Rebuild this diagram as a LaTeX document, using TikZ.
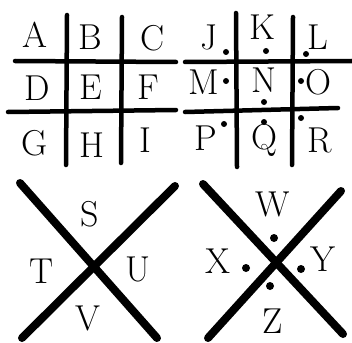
\documentclass[tikz,border=0pt]{standalone}
\begin{document}
\begin{tikzpicture}[x=1pt,y=-1pt,
  grid/.style={line width=4.5pt,line cap=round},
  cross/.style={line width=8pt,line cap=round},
  letter/.style={inner sep=0pt,font=\fontsize{36}{36}\selectfont},
  dotmark/.style={circle,fill,inner sep=0pt,minimum size=6pt}]
\useasboundingbox (0,0) rectangle (352,342);
% top-left grid
\draw[grid] (67,15) -- (66,165);
\draw[grid] (122,17) -- (121,163);
\draw[grid] (15,61) -- (176,62);
\draw[grid] (8,112) -- (176,110);
\node[letter] (A) at (35,35) {A};
\node[letter] (B) at (90,37) {B};
\node[letter] (C) at (153,38) {C};
\node[letter] (D) at (37,88) {D};
\node[letter] (E) at (91,87) {E};
\node[letter] (F) at (148,87) {F};
\node[letter] (G) at (35,143) {G};
\node[letter] (H) at (92,145) {H};
\node[letter] (I) at (145,140) {I};
% top-right grid
\draw[grid] (236,13) -- (237,167);
\draw[grid] (293,17) -- (292,165);
\draw[grid] (185,62) -- (352,61);
\draw[grid] (185,112) -- (338,108);
\node[letter] (J) at (209,37) {J};
\node[letter] (K) at (262,27) {K};
\node[letter] (L) at (318,37) {L};
\node[letter] (M) at (204,82) {M};
\node[letter] (N) at (264,80) {N};
\node[letter] (O) at (318,82) {O};
\node[letter] (P) at (206,138) {P};
\node[letter] (Q) at (264,140) {Q};
\node[letter] (R) at (320,140) {R};
\node[dotmark] (dJ) at (226,52) {};
\node[dotmark] (dK) at (266,51) {};
\node[dotmark] (dL) at (306,54) {};
\node[dotmark] (dM) at (226,81) {};
\node[dotmark] (dN) at (264,102) {};
\node[dotmark] (dO) at (301,81) {};
\node[dotmark] (dP) at (224,124) {};
\node[dotmark] (dQ) at (264,122) {};
\node[dotmark] (dR) at (301,118) {};
% bottom-left X
\draw[cross] (20,183) -- (157,338);
\draw[cross] (175,186) -- (22,338);
\node[letter] (S) at (90,214) {S};
\node[letter] (T) at (42,271) {T};
\node[letter] (U) at (138,269) {U};
\node[letter] (V) at (88,318) {V};
% bottom-right X
\draw[cross] (203,184) -- (343,334);
\draw[cross] (341,191) -- (208,338);
\node[letter] (W) at (273,204) {W};
\node[letter] (X) at (218,261) {X};
\node[letter] (Y) at (323,259) {Y};
\node[letter] (Z) at (273,321) {Z};
\node[dotmark,minimum size=8pt] (dW) at (274,238) {};
\node[dotmark,minimum size=8pt] (dX) at (246,268) {};
\node[dotmark,minimum size=8pt] (dY) at (301,269) {};
\node[dotmark,minimum size=8pt] (dZ) at (270,286) {};
\end{tikzpicture}
\end{document}
